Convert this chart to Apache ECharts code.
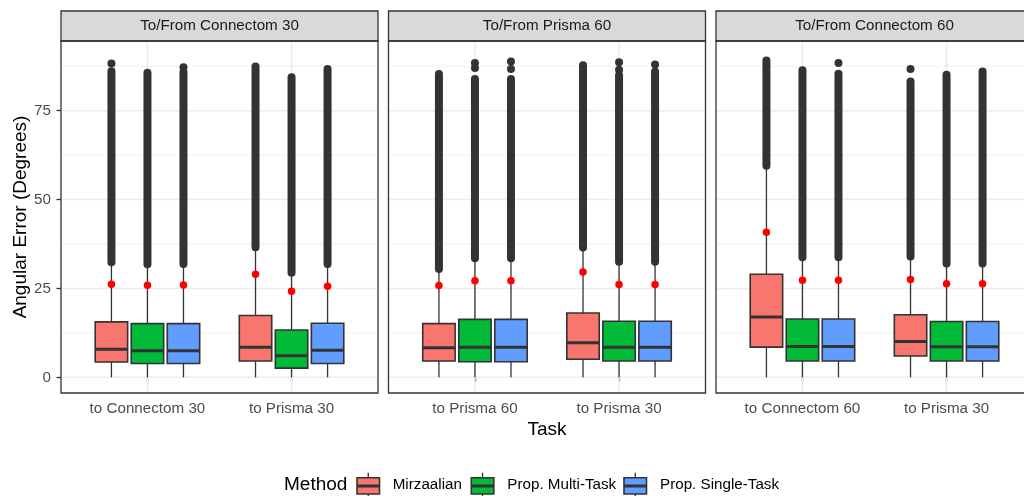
<!DOCTYPE html>
<html><head><meta charset="utf-8">
<script src="https://cdn.jsdelivr.net/npm/echarts@6/dist/echarts.min.js"></script>
<style>html,body{margin:0;padding:0;background:#fff}#c{width:1024px;height:496px}</style>
</head><body><div id="c"></div>
<script>
// ---------- data ----------
const panelTitles = ['To/From Connectom 30', 'To/From Prisma 60', 'To/From Connectom 60'];
const taskLabels = [['to Connectom 30', 'to Prisma 30'], ['to Prisma 60', 'to Prisma 30'], ['to Connectom 60', 'to Prisma 30']];
const methods = ['Mirzaalian', 'Prop. Multi-Task', 'Prop. Single-Task'];
const yTicks = [0, 25, 50, 75];
const yMinorBreaks = [12.5, 37.5, 62.5, 87.5];
const taskPositions = [1, 2];

// rows = method; columns = P1T1, P1T2, P2T1, P2T2, P3T1, P3T2
const whiskerLow   = [[0, 0, 0, 0, 0, 0], [0, 0, 0, 0, 0, 0], [0, 0, 0, 0, 0, 0]];
const q1Values     = [[4.3, 4.6, 4.6, 5.1, 8.5, 6.0], [3.9, 2.6, 4.4, 4.6, 4.6, 4.6], [3.9, 3.9, 4.4, 4.6, 4.6, 4.6]];
const medianValues = [[7.9, 8.5, 8.3, 9.7, 17.0, 10.1], [7.5, 6.1, 8.5, 8.5, 8.7, 8.6], [7.5, 7.6, 8.5, 8.5, 8.7, 8.6]];
const q3Values     = [[15.6, 17.4, 15.1, 18.1, 29.0, 17.6], [15.1, 13.3, 16.3, 15.8, 16.4, 15.7], [15.1, 15.2, 16.3, 15.8, 16.4, 15.7]];
const whiskerHigh  = [[32.4, 36.6, 30.5, 36.5, 59.5, 34.0], [31.8, 29.4, 33.5, 32.5, 33.8, 32.0], [31.9, 31.9, 33.5, 32.5, 33.8, 32.0]];
const meanValues   = [[26.2, 29.0, 25.8, 29.6, 40.8, 27.5], [25.9, 24.2, 27.2, 26.1, 27.3, 26.3], [26.0, 25.6, 27.2, 26.1, 27.3, 26.3]];
const outlierMax   = [[86.1, 87.4, 85.3, 87.8, 89.1, 83.2], [85.7, 84.4, 83.9, 85.0, 86.4, 85.1], [85.9, 86.7, 83.9, 86.0, 85.4, 86.0]];
const outlierExtra = [
  [[88.3], [], [], [], [], [86.7]],
  [[], [], [88.4, 87.0], [88.6, 86.5], [], []],
  [[87.2], [], [88.8, 86.7], [88.0], [88.4], []]
];

// ---------- style ----------
const COLORS = ['#F8766D', '#00BA38', '#619CFF'];
const DARK = '#333333';
const FONT = '"Liberation Sans", Arial, Helvetica, sans-serif';
const PANEL_LEFT = [61, 388.5, 716];
const PANEL_W = 317, PANEL_TOP = 41, PANEL_H = 352, STRIP_TOP = 11;
const DODGE = 0.25, BOXW = 0.225;
const Y_MIN = -4.4, Y_MAX = 94.6;
const SMALL = 15.2, BIG = 19;

const chart = echarts.init(document.getElementById('c'), null, {renderer: 'canvas'});

const grids = [], xAxes = [], yAxes = [], series = [];

PANEL_LEFT.forEach((left, p) => {
  grids.push({left: left, top: PANEL_TOP, width: PANEL_W, height: PANEL_H, containLabel: false, outerBoundsMode: 'none', show: false});
  xAxes.push({
    type: 'value', gridIndex: p, min: 0.4, max: 2.6,
    axisLine: {show: false},
    axisTick: {show: true, customValues: taskPositions, length: 4.5, lineStyle: {color: DARK, width: 1.3}},
    axisLabel: {show: true, customValues: taskPositions, margin: 8, color: '#4D4D4D', fontSize: SMALL, fontFamily: FONT,
      formatter: v => taskLabels[p][Math.round(v) - 1]},
    splitLine: {show: false}
  });
  yAxes.push({
    type: 'value', gridIndex: p, min: Y_MIN, max: Y_MAX,
    axisLine: {show: false},
    axisTick: {show: p === 0, customValues: yTicks, length: 4.5, lineStyle: {color: DARK, width: 1.3}},
    axisLabel: {show: p === 0, customValues: yTicks, margin: 10, color: '#4D4D4D', fontSize: SMALL, fontFamily: FONT},
    splitLine: {show: false}
  });

  // background grid lines
  const gl = [];
  yTicks.forEach(v => gl.push([0, v, 1]));
  yMinorBreaks.forEach(v => gl.push([0, v, 0]));
  taskPositions.forEach(v => gl.push([1, v, 1]));
  series.push({
    type: 'custom', xAxisIndex: p, yAxisIndex: p, z: 1, silent: true, data: gl,
    renderItem: (params, api) => {
      const cs = params.coordSys;
      const major = api.value(2) === 1;
      const style = {stroke: '#EBEBEB', lineWidth: major ? 1.5 : 0.8};
      if (api.value(0) === 0) {
        const y = api.coord([1, api.value(1)])[1];
        return {type: 'line', shape: {x1: cs.x + 1, y1: y, x2: cs.x + cs.width - 1, y2: y}, style};
      }
      const x = api.coord([api.value(1), 0])[0];
      return {type: 'line', shape: {x1: x, y1: cs.y + 1, x2: x, y2: cs.y + cs.height - 1}, style};
    }
  });

  methods.forEach((name, m) => {
    const off = (m - 1) * DODGE;
    const data = taskPositions.map((t, ti) => {
      const i = p * 2 + ti;
      return [t, whiskerLow[m][i], q1Values[m][i], medianValues[m][i], q3Values[m][i], whiskerHigh[m][i], outlierMax[m][i]];
    });
    series.push({
      type: 'custom', name: name, xAxisIndex: p, yAxisIndex: p, z: 3, silent: true, data: data,
      encode: {x: 0, y: [1, 2, 3, 4, 5, 6]},
      renderItem: (params, api) => {
        const x = api.value(0) + off;
        const idx = p * 2 + params.dataIndex;
        const c = v => api.coord([x, v]);
        const lo = c(api.value(1)), q1 = c(api.value(2)), md = c(api.value(3)), q3 = c(api.value(4)),
              hi = c(api.value(5)), top = c(api.value(6));
        const xl = api.coord([x - BOXW / 2, 0])[0], xr = api.coord([x + BOXW / 2, 0])[0];
        const children = [];
        children.push({type: 'line', shape: {x1: hi[0], y1: hi[1], x2: top[0], y2: top[1]},
          style: {stroke: DARK, lineWidth: 8, lineCap: 'round'}});
        outlierExtra[m][idx].forEach(v => {
          const pt = c(v);
          children.push({type: 'circle', shape: {cx: pt[0], cy: pt[1], r: 4}, style: {fill: DARK}});
        });
        children.push({type: 'line', shape: {x1: lo[0], y1: lo[1], x2: q1[0], y2: q1[1]}, style: {stroke: DARK, lineWidth: 1.3}});
        children.push({type: 'line', shape: {x1: q3[0], y1: q3[1], x2: hi[0], y2: hi[1]}, style: {stroke: DARK, lineWidth: 1.3}});
        children.push({type: 'rect', shape: {x: xl, y: q3[1], width: xr - xl, height: q1[1] - q3[1]},
          style: {fill: COLORS[m], stroke: DARK, lineWidth: 1.6}});
        children.push({type: 'line', shape: {x1: xl, y1: md[1], x2: xr, y2: md[1]}, style: {stroke: DARK, lineWidth: 3}});
        return {type: 'group', children};
      }
    });
    series.push({
      type: 'scatter', xAxisIndex: p, yAxisIndex: p, z: 5, silent: true,
      symbol: 'circle', symbolSize: 7.5, itemStyle: {color: '#FF0000', opacity: 1},
      data: taskPositions.map((t, ti) => [t + off, meanValues[m][p * 2 + ti]])
    });
  });
});

// ---------- decorations (strips, borders, titles, legend) ----------
const graphics = [];
PANEL_LEFT.forEach((left, p) => {
  graphics.push({type: 'rect', z: 100, shape: {x: left, y: STRIP_TOP, width: PANEL_W, height: PANEL_TOP - STRIP_TOP},
    style: {fill: '#D9D9D9', stroke: DARK, lineWidth: 1.3}});
  graphics.push({type: 'text', z: 101, x: left + PANEL_W / 2, y: (STRIP_TOP + PANEL_TOP) / 2,
    style: {text: panelTitles[p], fill: '#1A1A1A', font: SMALL + 'px ' + FONT, align: 'center', verticalAlign: 'middle'}});
  graphics.push({type: 'rect', z: 100, shape: {x: left, y: PANEL_TOP, width: PANEL_W, height: PANEL_H},
    style: {fill: 'none', stroke: DARK, lineWidth: 1.3}});
});
graphics.push({type: 'text', z: 101, x: 21, y: PANEL_TOP + PANEL_H / 2, rotation: Math.PI / 2,
  style: {text: 'Angular Error (Degrees)', fill: '#000', font: BIG + 'px ' + FONT, align: 'center', verticalAlign: 'middle'}});
graphics.push({type: 'text', z: 101, x: 547, y: 430,
  style: {text: 'Task', fill: '#000', font: BIG + 'px ' + FONT, align: 'center', verticalAlign: 'middle'}});
graphics.push({type: 'text', z: 101, x: 284, y: 485,
  style: {text: 'Method', fill: '#000', font: BIG + 'px ' + FONT, align: 'left', verticalAlign: 'middle'}});
const keyX = [357, 471.3, 624], labelX = [392.7, 507.3, 660];
methods.forEach((name, m) => {
  const kx = keyX[m];
  graphics.push({type: 'line', z: 100, shape: {x1: kx + 11.25, y1: 472.7, x2: kx + 11.25, y2: 499.3}, style: {stroke: DARK, lineWidth: 1.3}});
  graphics.push({type: 'rect', z: 101, shape: {x: kx, y: 477.7, width: 22.5, height: 16.3}, style: {fill: COLORS[m], stroke: DARK, lineWidth: 1.6}});
  graphics.push({type: 'line', z: 102, shape: {x1: kx, y1: 486, x2: kx + 22.5, y2: 486}, style: {stroke: DARK, lineWidth: 3}});
  graphics.push({type: 'text', z: 101, x: labelX[m], y: 485,
    style: {text: name, fill: '#000', font: SMALL + 'px ' + FONT, align: 'left', verticalAlign: 'middle'}});
});

chart.setOption({
  animation: false,
  backgroundColor: '#FFFFFF',
  grid: grids, xAxis: xAxes, yAxis: yAxes, series: series,
  graphic: {elements: graphics}
});
</script></body></html>
